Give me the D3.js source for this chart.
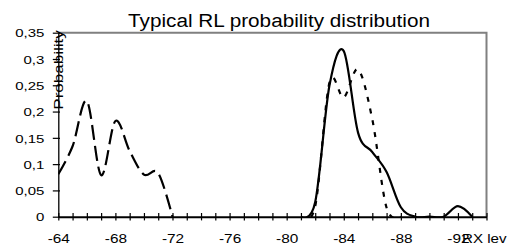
<!DOCTYPE html>
<html>
<head>
<meta charset="utf-8">
<script src="https://cdn.jsdelivr.net/npm/d3@7"></script>
<style>
  body { margin: 0; background: #fff; }
  text { font-family: "Liberation Sans", Arial, sans-serif; fill: #000; }
</style>
</head>
<body>
<div id="viz"></div>
<script>
// data
var xTickValues = d3.range(-64, -95, -1);
var xLabelValues = [-64, -68, -72, -76, -80, -84, -88, -92];
var yTickValues = [0, 0.05, 0.1, 0.15, 0.2, 0.25, 0.3, 0.35];

var longX = [-64, -65, -66, -67, -68, -69, -70, -71, -72];
var longY = [0.081, 0.134, 0.22, 0.079, 0.182, 0.125, 0.08, 0.083, 0];

var solidX = [-81, -82, -83, -84, -85, -86, -87, -88, -89, -90, -91, -92, -93];
var solidY = [0, 0.028, 0.25, 0.315, 0.16, 0.123, 0.085, 0.018, 0, 0, 0, 0.02, 0];

var dotX = [-81, -82, -83, -84, -85, -86, -87, -88];
var dotY = [0, 0.02, 0.255, 0.227, 0.28, 0.185, 0.017, 0];

var W = 522, H = 250;
var plotLeft = 58.3, plotRight = 486.5, plotTop = 32.7, plotBottom = 216.7;

var svg = d3.select("#viz").append("svg")
    .attr("width", W).attr("height", H);

var x = d3.scaleLinear().domain([-64, -94]).range([plotLeft, plotRight]);
var y = d3.scaleLinear().domain([0, 0.35]).range([plotBottom, plotTop]);

var comma = d3.formatLocale({decimal: ",", thousands: ".", grouping: [3], currency: ["", ""], minus: "-"});
var yFmt = comma.format("~g");

// stretch text along its reading direction, the source font runs wide
function widen(sel, k) {
    sel.each(function() {
        var len = this.getComputedTextLength();
        if (len > 0) d3.select(this).attr("textLength", len * k).attr("lengthAdjust", "spacingAndGlyphs");
    });
}

// gray frame top / right
svg.append("path")
    .attr("d", "M" + plotLeft + "," + plotTop + "H" + plotRight + "V" + plotBottom)
    .attr("fill", "none").attr("stroke", "#808080").attr("stroke-width", 2);

// y axis
var gy = svg.append("g").attr("transform", "translate(" + plotLeft + ",0)")
    .call(d3.axisLeft(y).tickValues(yTickValues).tickSize(0).tickPadding(14).tickFormat(yFmt));
gy.select(".domain").attr("stroke", "#000").attr("stroke-width", 1.3);
gy.selectAll(".tick line").attr("x1", -5.5).attr("x2", 1.7).attr("stroke", "#000").attr("stroke-width", 1.2);
gy.selectAll(".tick text").attr("font-size", "11.8px").attr("font-family", "Liberation Sans, Arial, sans-serif")
    .attr("dy", "0.36em").call(widen, 1.27);

// x axis
var gx = svg.append("g").attr("transform", "translate(0," + plotBottom + ")")
    .call(d3.axisBottom(x).tickValues(xTickValues).tickSize(0)
        .tickFormat(function(d) { return xLabelValues.indexOf(d) >= 0 ? String(d) : ""; }));
gx.select(".domain").attr("stroke", "#000").attr("stroke-width", 2);
gx.selectAll(".tick line").attr("y1", -3.7).attr("y2", 3.7).attr("stroke", "#000").attr("stroke-width", 1.2);
gx.selectAll(".tick text").attr("font-size", "12px").attr("font-family", "Liberation Sans, Arial, sans-serif")
    .attr("y", 26.5).attr("dy", 0).call(widen, 1.28);

// series
svg.append("clipPath").attr("id", "plot")
    .append("rect").attr("x", plotLeft).attr("y", plotTop)
    .attr("width", plotRight - plotLeft).attr("height", plotBottom - plotTop + 1);

var line = d3.line()
    .x(function(d) { return x(d[0]); })
    .y(function(d) { return y(d[1]); })
    .curve(d3.curveCardinal.tension(0));

var series = [
    {xs: longX, ys: longY, dash: "15,6"},
    {xs: dotX, ys: dotY, dash: "5,7"},
    {xs: solidX, ys: solidY, dash: null}
];

series.forEach(function(s) {
    var pts = s.xs.map(function(v, i) { return [v, s.ys[i]]; });
    svg.append("path")
        .datum(pts)
        .attr("clip-path", "url(#plot)")
        .attr("d", line)
        .attr("fill", "none")
        .attr("stroke", "#000")
        .attr("stroke-width", 2.2)
        .attr("stroke-dasharray", s.dash);
});

// texts
svg.append("text")
    .attr("x", 279).attr("y", 27)
    .attr("text-anchor", "middle")
    .attr("font-size", "18px")
    .text("Typical RL probability distribution")
    .call(widen, 1.15);

svg.append("text")
    .attr("transform", "translate(62.5,70) rotate(-90)")
    .attr("text-anchor", "middle")
    .attr("font-size", "12.5px")
    .text("Probability")
    .call(widen, 1.36);

svg.append("text")
    .attr("x", 462).attr("y", plotBottom + 26.5)
    .attr("font-size", "12px")
    .text("RX lev")
    .call(widen, 1.26);
</script>
</body>
</html>
